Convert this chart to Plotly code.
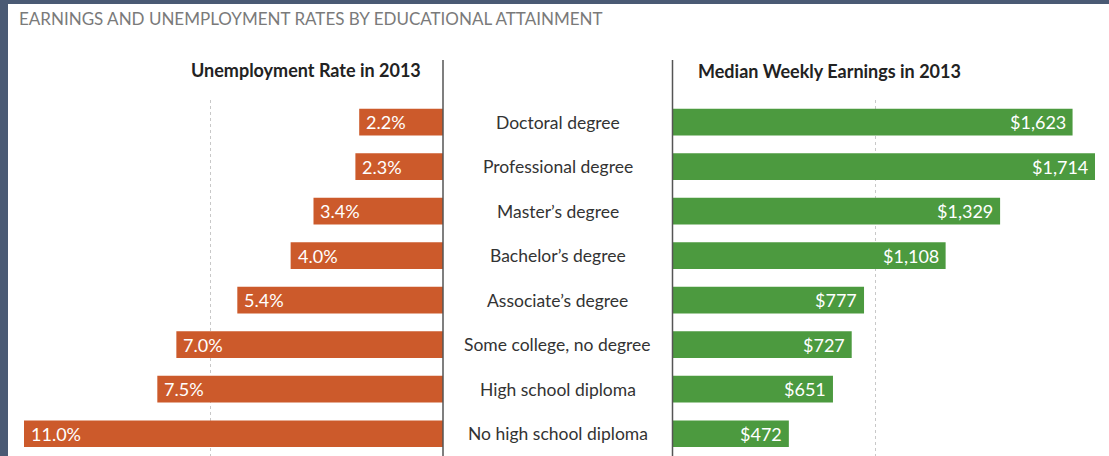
import plotly.graph_objects as go

W, H = 1109, 456

categories = ["Doctoral degree", "Professional degree", "Master\u2019s degree",
              "Bachelor\u2019s degree", "Associate\u2019s degree",
              "Some college, no degree", "High school diploma",
              "No high school diploma"]
unemployment = [2.2, 2.3, 3.4, 4.0, 5.4, 7.0, 7.5, 11.0]
earnings = [1623, 1714, 1329, 1108, 777, 727, 651, 472]

unemp_labels = ["%.1f%%" % v for v in unemployment]
earn_labels = ["${:,}".format(v) for v in earnings]

ORANGE = "#CC5A2B"
GREEN = "#4C9A3F"
FRAME = "#4A5A74"
FONT = "Lato"


def px(x):
    return x / W


def py(y):
    return (H - y) / H


fig = go.Figure()

fig.add_trace(go.Bar(y=categories, x=unemployment, orientation="h",
                     marker=dict(color=ORANGE, line=dict(width=0)),
                     width=0.6, xaxis="x", yaxis="y", hoverinfo="skip"))
fig.add_trace(go.Bar(y=categories, x=earnings, orientation="h",
                     marker=dict(color=GREEN, line=dict(width=0)),
                     width=0.6, xaxis="x2", yaxis="y", hoverinfo="skip"))

annotations = []
# value labels inside the bars
for cat, v, lab in zip(categories, unemployment, unemp_labels):
    annotations.append(dict(x=v, y=cat, xref="x", yref="y", text=lab,
                            xanchor="left", xshift=5, showarrow=False,
                            font=dict(family=FONT, size=18, color="white")))
for cat, v, lab in zip(categories, earnings, earn_labels):
    annotations.append(dict(x=v, y=cat, xref="x2", yref="y", text=lab,
                            xanchor="right", xshift=-5, showarrow=False,
                            font=dict(family=FONT, size=18, color="white")))
# category names in the middle
for cat in categories:
    annotations.append(dict(x=px(557.5), y=cat, xref="paper", yref="y", text=cat,
                            xanchor="center", showarrow=False,
                            font=dict(family=FONT, size=17.5, color="#333333")))

annotations += [
    dict(x=px(17), y=py(18), xref="paper", yref="paper",
         text="EARNINGS AND UNEMPLOYMENT RATES BY EDUCATIONAL ATTAINMENT",
         xanchor="left", yanchor="middle", showarrow=False,
         font=dict(family=FONT, size=17, color="#7a7a7a")),
    dict(x=px(306), y=py(70), xref="paper", yref="paper",
         text="<b>Unemployment Rate in 2013</b>",
         xanchor="center", yanchor="middle", showarrow=False,
         font=dict(family=FONT, size=18, color="#222222")),
    dict(x=px(696), y=py(71), xref="paper", yref="paper",
         text="<b>Median Weekly Earnings in 2013</b>",
         xanchor="left", yanchor="middle", showarrow=False,
         font=dict(family=FONT, size=18, color="#222222")),
]

shapes = [
    # white card inside the dark frame
    dict(type="rect", xref="paper", yref="paper", x0=px(8), x1=1, y0=0, y1=py(4),
         fillcolor="white", line=dict(width=0), layer="below"),
    # axis lines
    dict(type="line", xref="paper", yref="paper", x0=px(443), x1=px(443),
         y0=0, y1=py(60), line=dict(color="#555555", width=1.5)),
    dict(type="line", xref="paper", yref="paper", x0=px(672.5), x1=px(672.5),
         y0=0, y1=py(60), line=dict(color="#555555", width=1.5)),
]

fig.update_layout(
    width=W, height=H,
    margin=dict(l=0, r=0, t=0, b=0),
    paper_bgcolor=FRAME,
    plot_bgcolor="rgba(0,0,0,0)",
    showlegend=False,
    xaxis=dict(domain=[px(24), px(443)], range=[11, 0], showticklabels=False,
               tickvals=[6.1], showgrid=True, gridcolor="#c8c8c8", griddash="dot",
               gridwidth=1, zeroline=False, showline=False, fixedrange=True),
    xaxis2=dict(domain=[px(672.5), px(1095)], range=[0, 1714], showticklabels=False,
                tickvals=[825], showgrid=True, gridcolor="#c8c8c8", griddash="dot",
                gridwidth=1, zeroline=False, showline=False, anchor="y",
                fixedrange=True),
    yaxis=dict(domain=[0, py(99.8)], range=[7.5, -0.5], showticklabels=False,
               showgrid=False, zeroline=False, showline=False, fixedrange=True),
    annotations=annotations,
    shapes=shapes,
)

# page body has an 8px default margin; drop it so the figure fills the window
fig.write_html("out.html", config={"displayModeBar": False},
               post_script="document.body.style.margin='0';")
